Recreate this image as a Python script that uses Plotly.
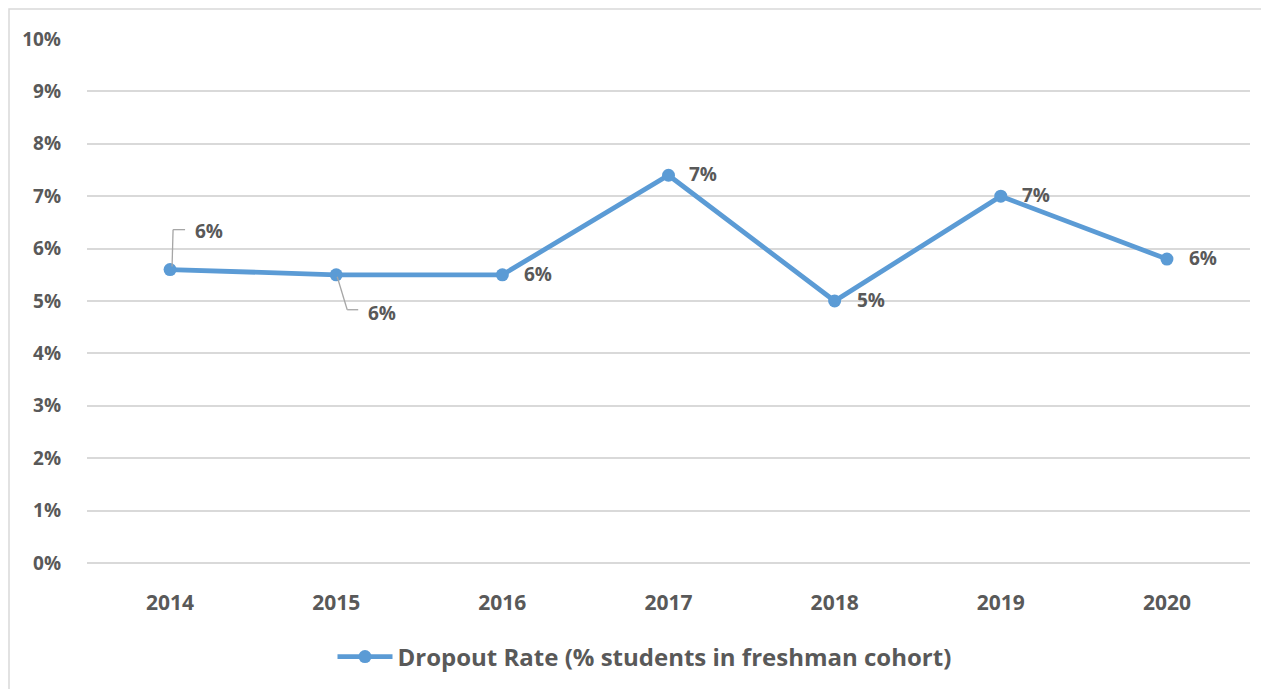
import plotly.graph_objects as go

years = ['2014', '2015', '2016', '2017', '2018', '2019', '2020']
dropout = [5.6, 5.5, 5.5, 7.4, 5.0, 7.0, 5.8]
labels = ['6%', '6%', '6%', '7%', '5%', '7%', '6%']
y_ticks = list(range(0, 11))
y_ticktext = [f'{v}%' for v in y_ticks]

BLUE = '#5B9BD5'
TEXT = '#595959'
LEADER = '#A6A6A6'
FONT = 'Open Sans, sans-serif'

# page body has an 8px margin, so the figure is shifted by 8px
W, H = 1253, 681
L, R, T, B = 79, 11, 31, 125
plot_w = W - L - R
plot_h = H - T - B
px_x = 7 / plot_w      # category units per pixel
px_y = 10 / plot_h     # percent units per pixel

fig = go.Figure()
fig.add_trace(go.Scatter(
    x=years,
    y=dropout,
    mode='lines+markers',
    name='Dropout Rate (% students in freshman cohort)',
    line=dict(color=BLUE, width=4.8),
    marker=dict(color=BLUE, size=13),
))

lab_font = dict(size=19, color=TEXT, family=FONT)

# 2014 label sits above with an elbow leader line
v = dropout[0]
fig.add_shape(type='line', xref='x', yref='y', x0=0 + 2 * px_x, x1=0 + 3 * px_x,
              y0=v + 3 * px_y, y1=v + 40 * px_y, line=dict(color=LEADER, width=1.3))
fig.add_shape(type='line', xref='x', yref='y', x0=0 + 3 * px_x, x1=0 + 15 * px_x,
              y0=v + 40 * px_y, y1=v + 40 * px_y, line=dict(color=LEADER, width=1.3))

# 2015 label sits below with an elbow leader line
v = dropout[1]
fig.add_shape(type='line', xref='x', yref='y', x0=1 + 1 * px_x, x1=1 + 11 * px_x,
              y0=v - 2 * px_y, y1=v - 35 * px_y, line=dict(color=LEADER, width=1.3))
fig.add_shape(type='line', xref='x', yref='y', x0=1 + 11 * px_x, x1=1 + 22 * px_x,
              y0=v - 35 * px_y, y1=v - 35 * px_y, line=dict(color=LEADER, width=1.3))

shifts = [(23, 39), (30, -38), (20, 1), (18, 1), (20, 1), (19, 1), (20, 1)]
annotations = []
for i, (val, lab) in enumerate(zip(dropout, labels)):
    dx, dy = shifts[i]
    annotations.append(dict(
        x=i, y=val, xref='x', yref='y', text='<b>' + lab + '</b>',
        showarrow=False, xanchor='left', yanchor='middle',
        xshift=dx, yshift=dy, font=lab_font,
    ))

# chart border (right and bottom fall outside the picture)
fig.add_shape(type='rect', xref='paper', yref='paper',
              x0=(1 - L) / plot_w, x1=1.2, y0=-0.4, y1=1 + (T - 1) / plot_h,
              line=dict(color='#D9D9D9', width=1.5), layer='below')

fig.update_layout(
    width=W,
    height=H,
    margin=dict(l=L, r=R, t=T, b=B),
    paper_bgcolor='white',
    plot_bgcolor='white',
    font=dict(family=FONT, color=TEXT, size=18),
    annotations=annotations,
    showlegend=True,
    legend=dict(
        orientation='h',
        x=0.5 - 24 / plot_w, xanchor='center',
        y=-93 / plot_h, yanchor='middle',
        font=dict(size=24, color=TEXT, family=FONT, weight='bold'),
        itemwidth=55,
    ),
    xaxis=dict(
        type='category',
        range=[-0.5, 6.5],
        showgrid=False,
        showline=False,
        zeroline=False,
        ticks='',
        ticklabelstandoff=25,
        tickfont=dict(size=21, weight='bold', color=TEXT, family=FONT),
    ),
    yaxis=dict(
        range=[0, 10],
        tickvals=y_ticks,
        ticktext=y_ticktext,
        showgrid=True,
        gridcolor='#D9D9D9',
        gridwidth=1.5,
        showline=False,
        zeroline=True,
        zerolinecolor='#D9D9D9',
        zerolinewidth=1.5,
        ticks='',
        ticklabelstandoff=25,
        tickfont=dict(size=19, weight='bold', color=TEXT, family=FONT),
    ),
)

fig.write_html('out.html')
